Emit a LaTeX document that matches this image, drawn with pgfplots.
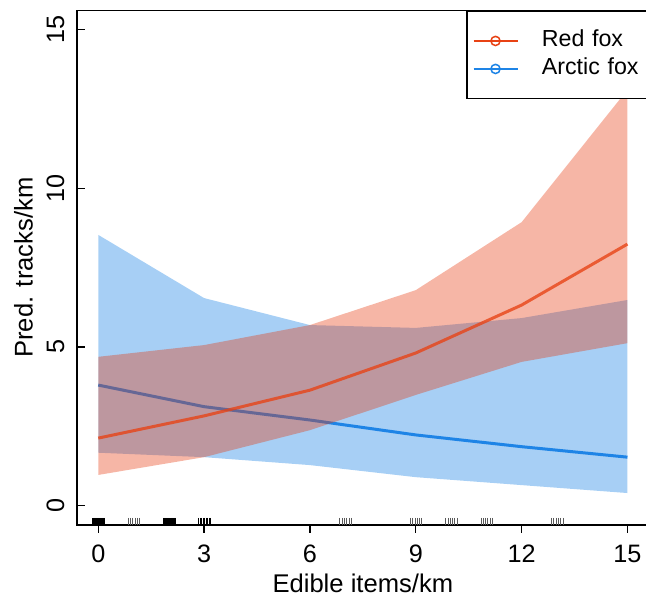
\documentclass[border=0pt]{standalone}
\usepackage{fontspec}
\setmainfont{Liberation Sans}
\usepackage{pgfplots}
\pgfplotsset{compat=1.18}

\definecolor{blueband}{RGB}{167,207,245}
\definecolor{blueline}{RGB}{30,132,230}
\definecolor{redfill}{RGB}{230,52,8}
\definecolor{redline}{RGB}{232,66,20}

\begin{document}
\begin{tikzpicture}
\begin{axis}[
  at={(0,0)}, anchor=south west,
  scale only axis,
  width=285.75pt, height=257.2pt,
  xmin=-0.6, xmax=15.6, ymin=-0.6, ymax=15.6,
  xtick={0,3,6,9,12,15}, ytick={0,5,10,15},
  xtick pos=bottom, ytick pos=left,
  tick align=inside,
  major tick length=3.9pt,
  x tick style={yshift=-3.9pt},
  tick style={black, line width=0.65pt},
  axis line style={line width=0.75pt},
  /pgf/number format/assume math mode=true,
  ticklabel style={font=\fontsize{12.6}{15}\selectfont},
  xticklabel style={anchor=north, inner sep=0pt, yshift=-10.1pt},
  yticklabel style={rotate=90, anchor=south, inner sep=0pt, yshift=6.2pt},
  xlabel={Edible items/km},
  ylabel={Pred. tracks/km},
  label style={font=\fontsize{12.8}{15}\selectfont},
  xlabel style={at={(axis description cs:0.5,0)}, anchor=base, inner sep=0pt, yshift=-34.1pt},
  ylabel style={at={(axis description cs:0,0.5)}, anchor=base, inner sep=0pt, yshift=22.3pt},
  legend style={at={(rel axis cs:1,1)}, anchor=north east, draw=black, line width=0.75pt,
    fill=white, font=\fontsize{11.6}{13}\selectfont,
    inner xsep=3pt, inner ysep=9.5pt, row sep=3.2pt, column sep=11.8pt,
    nodes={inner sep=0pt, text height=8.4pt, text depth=2.4pt}},
  legend cell align=left,
  /tikz/every even column/.append style={text width=50pt},
  legend image code/.code={\draw[mark repeat=2, mark phase=2, #1]
    plot coordinates {(0pt,0pt) (11pt,0pt) (22pt,0pt)};},
]

% Arctic fox band
\addplot[fill=blueband, draw=none, forget plot] coordinates {
  (0,8.53) (3,6.54) (6,5.69) (9,5.60) (12,5.91) (15,6.48)
  (15,0.40) (12,0.65) (9,0.90) (6,1.28) (3,1.53) (0,1.67)} -- cycle;
\addplot[blueline, line width=1.5pt, forget plot] coordinates {
  (0,3.80) (3,3.12) (6,2.70) (9,2.23) (12,1.86) (15,1.53)};

% Red fox band
\addplot[fill=redfill, fill opacity=0.36, draw=none, forget plot] coordinates {
  (0,4.69) (3,5.06) (6,5.69) (9,6.79) (12,8.93) (15,13.1)
  (15,5.12) (12,4.53) (9,3.49) (6,2.38) (3,1.53) (0,0.97)} -- cycle;
\addplot[redline, line width=1.5pt, opacity=0.78, forget plot] coordinates {
  (0,2.13) (3,2.83) (6,3.64) (9,4.81) (12,6.32) (15,8.24)};

% rug
\addplot[only marks, mark=|, mark size=1.75pt, mark options={line width=0.6pt}, black, forget plot] coordinates {
  (-0.15,-0.49) (-0.12,-0.49) (-0.09,-0.49) (-0.06,-0.49) (-0.03,-0.49) (0.00,-0.49)
  (0.03,-0.49) (0.06,-0.49) (0.09,-0.49) (0.12,-0.49) (0.15,-0.49) (0.18,-0.49)
  (1.85,-0.49) (1.88,-0.49) (1.91,-0.49) (1.94,-0.49) (1.97,-0.49) (2.00,-0.49)
  (2.03,-0.49) (2.06,-0.49) (2.09,-0.49) (2.12,-0.49) (2.15,-0.49) (2.18,-0.49)};
\addplot[only marks, mark=|, mark size=1.75pt, mark options={line width=0.5pt}, black, forget plot] coordinates {
  (2.85,-0.49) (2.89,-0.49) (2.93,-0.49) (2.98,-0.49) (3.02,-0.49)
  (3.06,-0.49) (3.10,-0.49) (3.14,-0.49) (3.18,-0.49)};
\addplot[only marks, mark=|, mark size=1.75pt, mark options={line width=0.45pt}, black!65, forget plot] coordinates {
  (0.85,-0.49) (0.915,-0.49) (0.98,-0.49) (1.045,-0.49) (1.11,-0.49) (1.175,-0.49)
  (6.85,-0.49) (6.915,-0.49) (6.98,-0.49) (7.045,-0.49) (7.11,-0.49) (7.175,-0.49)
  (8.85,-0.49) (8.915,-0.49) (8.98,-0.49) (9.045,-0.49) (9.11,-0.49) (9.175,-0.49)
  (9.85,-0.49) (9.915,-0.49) (9.98,-0.49) (10.045,-0.49) (10.11,-0.49) (10.175,-0.49)
  (10.85,-0.49) (10.915,-0.49) (10.98,-0.49) (11.045,-0.49) (11.11,-0.49) (11.175,-0.49)
  (12.85,-0.49) (12.915,-0.49) (12.98,-0.49) (13.045,-0.49) (13.11,-0.49) (13.175,-0.49)};

\addlegendimage{redline, line width=0.75pt, mark=o, mark size=2.3pt}
\addlegendentry{Red fox}
\addlegendimage{blueline, line width=0.75pt, mark=o, mark size=2.3pt}
\addlegendentry{Arctic fox}
\end{axis}
\pgfresetboundingbox
\useasboundingbox (-38.55pt,-36.1pt) rectangle (284.45pt,262.4pt);
\end{tikzpicture}
\end{document}
